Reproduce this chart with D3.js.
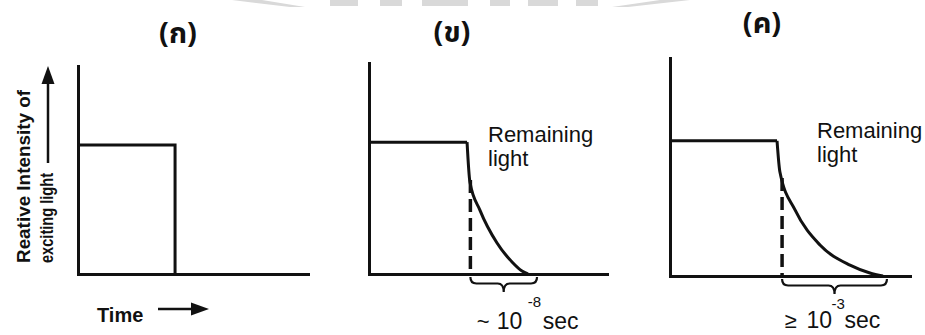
<!DOCTYPE html>
<html>
<head>
<meta charset="utf-8">
<script src="https://cdn.jsdelivr.net/npm/d3@7/dist/d3.min.js"></script>
<style>
  html, body { margin: 0; padding: 0; background: #fff; }
  svg { display: block; }
  text { font-family: "Liberation Sans", Arial, sans-serif; fill: #111; }
</style>
</head>
<body>
<svg id="chart" width="925" height="335"></svg>
<script>
// ---- data ----
const panelTitles = ["(ก)", "(ข)", "(ค)"];
const pulseLevels = [0.62, 0.625, 0.62];      // relative intensity while the exciting light is on
const pulseEnds = [4.22, 4.12, 4.46];          // time the exciting light is switched off
// emission after switch-off (fluorescence, phosphorescence)
const decayTimeB = [4.12, 4.24, 4.66, 5.38, 6.01, 6.43, 6.68];
const decayIntB  = [0.625, 0.436, 0.303, 0.147, 0.057, 0.014, 0];
const decayTimeC = [4.46, 4.58, 5.21, 6.25, 7.5, 8.33, 8.875];
const decayIntC  = [0.62, 0.477, 0.303, 0.142, 0.050, 0.014, 0];
const cutoffTimes  = [null, 4.26, 4.67];
const cutoffLevels = [null, 0.445, 0.45];
const spanEnds = [null, 7.06, 9.04];
const lifetimePrefix = ["", "~", "≥"];
const lifetimeBase = "10";
const lifetimeExp = ["", "-8", "-3"];
const lifetimeUnit = "sec";
const yLabelLines = ["Reative Intensity of", "exciting light"];
const xLabel = "Time";
const remainingLines = ["Remaining", "light"];

// ---- layout ----
const panels = [
  { x0: 78,  x1: 308, yb: 274, yt: 66, titleX: 178, titleY: 43 },
  { x0: 369, x1: 607, yb: 274, yt: 63, titleX: 452, titleY: 42, remX: 488, remY: 142,
    pre: -27, base: -7, exp: 24, unit: 39, expY: 307, textY: 329 },
  { x0: 670, x1: 910, yb: 276, yt: 58, titleX: 762, titleY: 33, remX: 817, remY: 138,
    pre: -50, base: -28, exp: -3, unit: 10, expY: 309, textY: 328 }
];
const yLabelLengths = [173, 90];
const decays = [null,
  decayTimeB.map((t, i) => [t, decayIntB[i]]),
  decayTimeC.map((t, i) => [t, decayIntC[i]])];

const ink = "#111";
const svg = d3.select("#chart");

// faint watermark peeking in at the top edge
const wm = svg.append("g").attr("fill", "#d9d9d9");
wm.append("path").attr("d", "M232,0 L262,0 L305,7 L290,7 Z");
wm.append("path").attr("d", "M612,7 L660,0 L690,0 L628,7 Z");
[[330, 358], [380, 402], [422, 468], [490, 510], [528, 558], [576, 598]].forEach(([a, b]) =>
  wm.append("rect").attr("x", a).attr("y", 0).attr("width", b - a).attr("height", 6));

panels.forEach((p, i) => {
  const x = d3.scaleLinear().domain([0, 10]).range([p.x0, p.x1]);
  const y = d3.scaleLinear().domain([0, 1]).range([p.yb, p.yt]);
  const g = svg.append("g");

  // axes drawn as bare domain lines
  const xAxis = g.append("g").attr("transform", `translate(0,${p.yb})`)
    .call(d3.axisBottom(x).ticks(0).tickSizeOuter(0));
  const yAxis = g.append("g").attr("transform", `translate(${p.x0},0)`)
    .call(d3.axisLeft(y).ticks(0).tickSizeOuter(0));
  [xAxis, yAxis].forEach(a => a.select(".domain")
    .attr("stroke", ink).attr("stroke-width", 3).attr("stroke-linecap", "square"));

  const line = d3.line().x(d => x(d[0])).y(d => y(d[1]));

  if (i === 0) {
    // exciting light: rectangular pulse
    g.append("path")
      .attr("d", line([[0, pulseLevels[i]], [pulseEnds[i], pulseLevels[i]], [pulseEnds[i], 0]]))
      .attr("fill", "none").attr("stroke", ink).attr("stroke-width", 3)
      .attr("stroke-linejoin", "miter");
  } else {
    g.append("path")
      .attr("d", line([[0, pulseLevels[i]], [pulseEnds[i], pulseLevels[i]]]))
      .attr("fill", "none").attr("stroke", ink).attr("stroke-width", 3);
    const smooth = d3.line().x(d => x(d[0])).y(d => y(d[1])).curve(d3.curveMonotoneX);
    g.append("path")
      .attr("d", smooth(decays[i]))
      .attr("fill", "none").attr("stroke", ink).attr("stroke-width", 3);

    // switch-off marker
    g.append("path")
      .attr("d", line([[cutoffTimes[i], cutoffLevels[i]], [cutoffTimes[i], 0]]))
      .attr("stroke", ink).attr("stroke-width", 3.5).attr("stroke-dasharray", "13,6");

    // brace spanning the emission time
    const a = x(cutoffTimes[i]), b = x(spanEnds[i]), m = (a + b) / 2;
    const y0 = p.yb + 3, y1 = p.yb + 9.5, y2 = p.yb + 18;
    g.append("path")
      .attr("d", `M${a},${y0} Q${a},${y1} ${a + 6},${y1} L${m - 6},${y1} Q${m},${y1} ${m},${y2}
                  Q${m},${y1} ${m + 6},${y1} L${b - 6},${y1} Q${b},${y1} ${b},${y0}`)
      .attr("fill", "none").attr("stroke", ink).attr("stroke-width", 2.2);

    // lifetime annotation
    const tip = m;
    g.append("text").attr("x", tip + p.pre).attr("y", p.textY)
      .attr("font-size", 22).text(lifetimePrefix[i]);
    g.append("text").attr("x", tip + p.base).attr("y", p.textY)
      .attr("font-size", 23).text(lifetimeBase);
    g.append("text").attr("x", tip + p.exp).attr("y", p.expY)
      .attr("font-size", 15).text(lifetimeExp[i]);
    g.append("text").attr("x", tip + p.unit).attr("y", p.textY)
      .attr("font-size", 23).text(lifetimeUnit);

    // "Remaining light"
    remainingLines.forEach((s, k) => g.append("text")
      .attr("x", p.remX).attr("y", p.remY + k * 24)
      .attr("font-size", 22).text(s));
  }

  // panel title
  g.append("text").attr("x", p.titleX).attr("y", p.titleY)
    .attr("text-anchor", "middle").attr("font-size", 29).attr("font-weight", "bold")
    .style("font-family", "'Noto Sans Thai', 'Noto Sans', 'DejaVu Sans', sans-serif")
    .text(panelTitles[i]);
});

// axis titles of the first panel
const lab = svg.append("g");
yLabelLines.forEach((s, k) => lab.append("text")
  .attr("transform", `translate(${30 + k * 23},263) rotate(-90)`)
  .attr("font-size", 19).attr("font-weight", "bold")
  .attr("textLength", yLabelLengths[k]).attr("lengthAdjust", "spacingAndGlyphs")
  .text(s));
lab.append("line").attr("x1", 48).attr("x2", 48).attr("y1", 163).attr("y2", 80)
  .attr("stroke", ink).attr("stroke-width", 2.5);
lab.append("path").attr("d", "M48,66 L41.5,84 L54.5,84 Z").attr("fill", ink);

lab.append("text").attr("x", 97).attr("y", 322)
  .attr("font-size", 20).attr("font-weight", "bold").text(xLabel);
lab.append("line").attr("x1", 158).attr("x2", 195).attr("y1", 309).attr("y2", 309)
  .attr("stroke", ink).attr("stroke-width", 2.5);
lab.append("path").attr("d", "M209,309 L191,302.5 L191,315.5 Z").attr("fill", ink);
</script>
</body>
</html>
